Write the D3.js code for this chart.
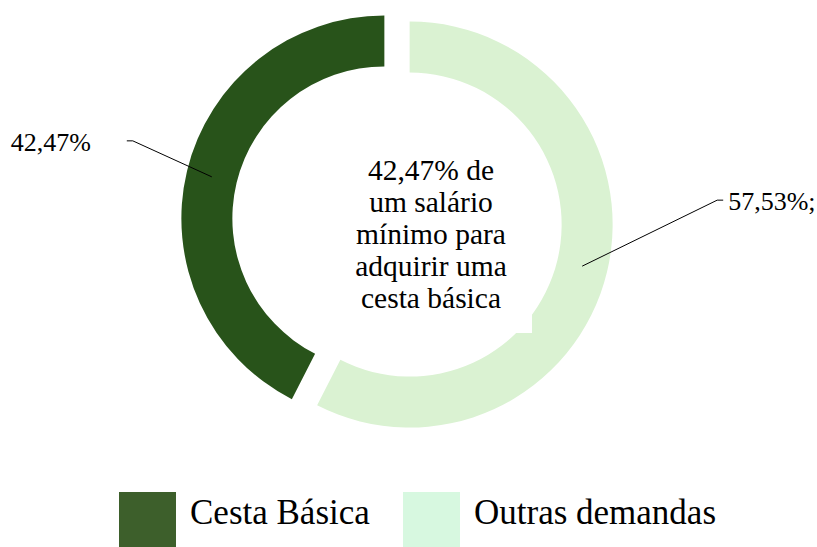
<!DOCTYPE html>
<html>
<head>
<meta charset="utf-8">
<script src="https://cdn.jsdelivr.net/npm/d3@7"></script>
<style>
  html, body { margin: 0; padding: 0; background: #fff; }
  svg { display: block; font-family: "Palatino Linotype", "Book Antiqua", Palatino, "Liberation Serif", serif; }
</style>
</head>
<body>
<div id="chart"></div>
<script>
// data
const categories = ["Cesta Básica", "Outras demandas"];
const values = [42.47, 57.53];
const valueLabels = ["42,47%", "57,53%;"];
const centerLines = ["42,47% de", "um salário", "mínimo para", "adquirir uma", "cesta básica"];

const arcColors = ["#28531a", "#daf2d2"];
const legendColors = ["#3d5f2b", "#d7f8e0"];

const width = 817, height = 547;
const cx = 397, cy = 221.5;
const outerR = 203, innerR = 152;
const explode = 13;

// label knee offsets from each slice centroid (manual placement, like the original)
const labelOffsets = [[-79, -36], [135, -66]];

const svg = d3.select('#chart').append('svg')
  .attr('width', width)
  .attr('height', height);

const g = svg.append('g').attr('transform', `translate(${cx},${cy})`);

const total = d3.sum(values);
const pie = d3.pie()
  .sort(null)
  .startAngle(-2 * Math.PI * values[0] / total)
  .endAngle(2 * Math.PI - 2 * Math.PI * values[0] / total);

const arc = d3.arc().innerRadius(innerR).outerRadius(outerR);
const arcs = pie(values);

// ------------------------------------------------------------------------
// SLICES (exploded)
// ------------------------------------------------------------------------
const shift = d => {
  const mid = (d.startAngle + d.endAngle) / 2;
  return [Math.sin(mid) * explode, -Math.cos(mid) * explode];
};

g.selectAll('.slice')
  .data(arcs)
  .enter()
  .append('path')
    .attr('class', 'slice')
    .attr('transform', d => `translate(${shift(d)})`)
    .attr('d', arc)
    .attr('fill', (d, i) => arcColors[i]);

// ------------------------------------------------------------------------
// CENTER TEXT BOX (its white fill bites into the ring a little)
// ------------------------------------------------------------------------
const box = svg.append('g');
box.append('rect')
  .attr('x', 331)
  .attr('y', 137)
  .attr('width', 201)
  .attr('height', 196)
  .attr('fill', '#fff');

box.selectAll('text')
  .data(centerLines)
  .enter()
  .append('text')
    .attr('x', 431)
    .attr('y', (d, i) => 180 + i * 32.1)
    .attr('text-anchor', 'middle')
    .attr('font-size', 29.5)
    .attr('fill', '#000')
    .text(d => d);

// ------------------------------------------------------------------------
// DATA LABELS + LEADER LINES
// ------------------------------------------------------------------------
arcs.forEach((d, i) => {
  const [sx, sy] = shift(d);
  const c = arc.centroid(d);
  const p0 = [c[0] + sx, c[1] + sy];
  const knee = [p0[0] + labelOffsets[i][0], p0[1] + labelOffsets[i][1]];
  const left = knee[0] < 0;
  const end = [knee[0] + (left ? -6 : 6), knee[1]];

  g.append('path')
    .attr('d', `M${p0}L${knee}L${end}`)
    .attr('fill', 'none')
    .attr('stroke', '#000')
    .attr('stroke-width', 1);

  g.append('text')
    .attr('x', left ? end[0] - 36 : end[0] + 5)
    .attr('y', end[1] + 10)
    .attr('text-anchor', left ? 'end' : 'start')
    .attr('font-size', 26)
    .attr('fill', '#000')
    .text(valueLabels[i]);
});

// ------------------------------------------------------------------------
// LEGEND
// ------------------------------------------------------------------------
const legendX = [119, 403];
const legend = svg.selectAll('.legend')
  .data(categories)
  .enter()
  .append('g')
    .attr('class', 'legend')
    .attr('transform', (d, i) => `translate(${legendX[i]},492)`);

legend.append('rect')
  .attr('width', 57)
  .attr('height', 56)
  .attr('fill', (d, i) => legendColors[i]);

legend.append('text')
  .attr('x', 71)
  .attr('y', 32)
  .attr('font-size', 35)
  .attr('fill', '#000')
  .text(d => d);
</script>
</body>
</html>
